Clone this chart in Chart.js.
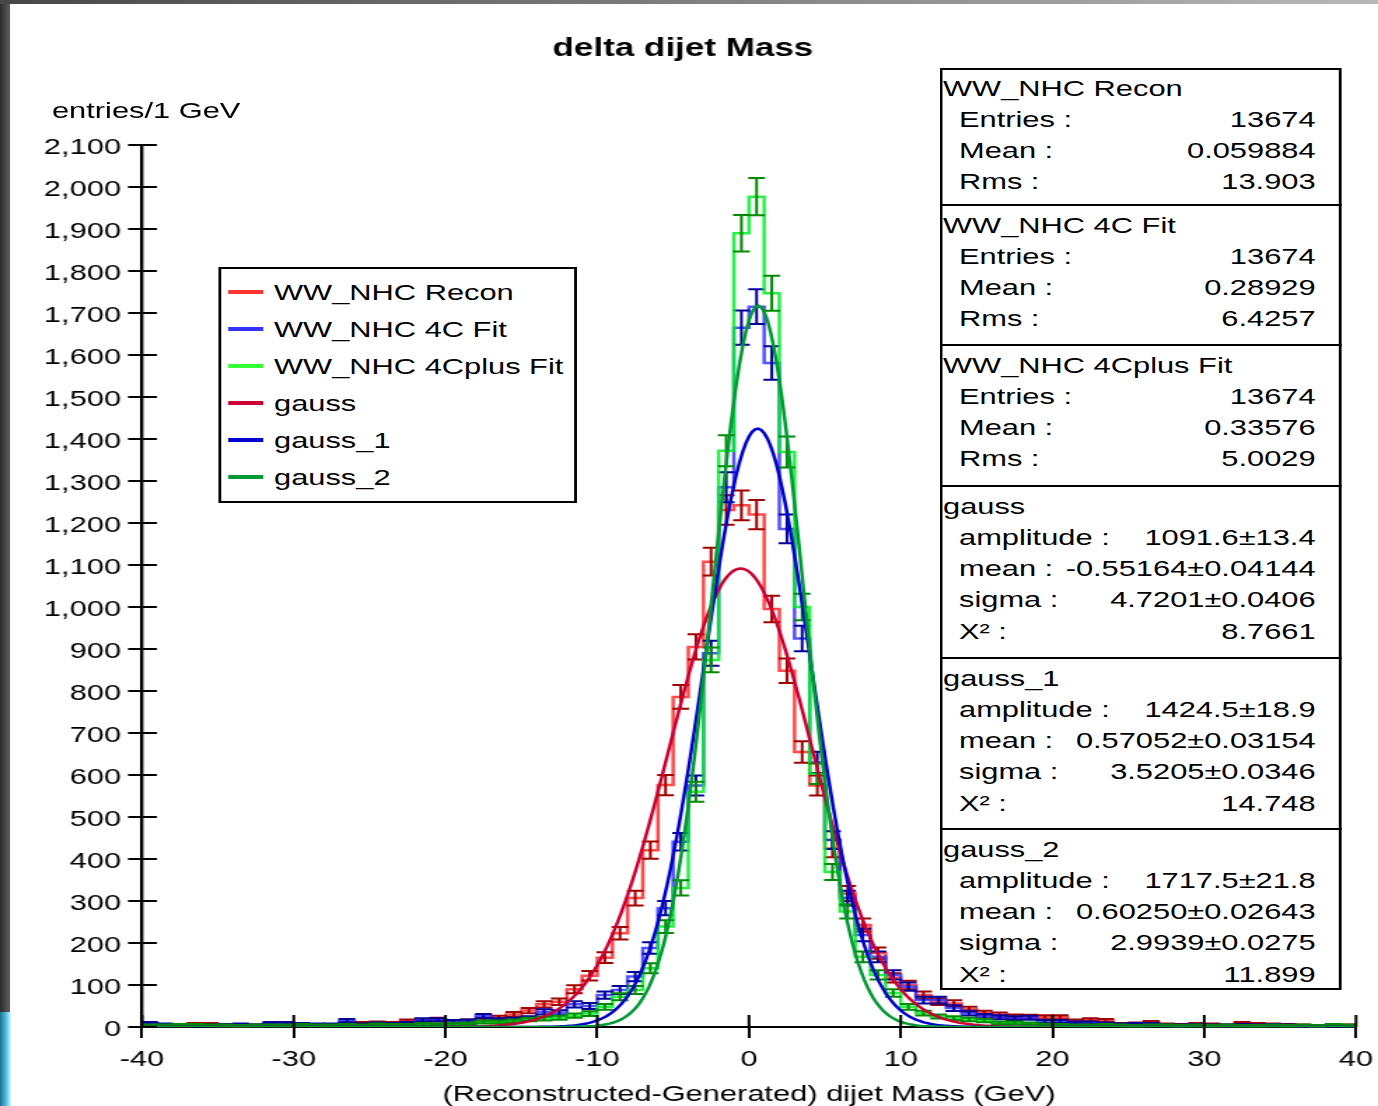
<!DOCTYPE html>
<html>
<head>
<meta charset="utf-8">
<script src="https://cdn.jsdelivr.net/npm/chart.js@4.4.1/dist/chart.umd.min.js"></script>
<style>
html,body{margin:0;padding:0;background:#fff;width:1378px;height:1106px;overflow:hidden;font-family:'Liberation Sans',Arial,sans-serif;}
#stage{position:absolute;left:0;top:0;width:984px;height:1106px;transform-origin:0 0;transform:scaleX(1.40041);}
#wrap{position:absolute;left:0;top:0;width:984px;height:1106px;}
.ov{position:absolute;white-space:nowrap;color:#000;font-size:22px;line-height:31px;height:31px;}
.box{position:absolute;border:2px solid #000;background:#fff;box-sizing:border-box;}
.rule{position:absolute;height:2px;background:#000;}
.sw{position:absolute;height:4px;}
#leftbar{position:absolute;left:0;top:0;width:10px;height:1012px;background:linear-gradient(to right,#2c2c2c,#5e5e5e);}
#leftbar2{position:absolute;left:0;top:1012px;width:11px;height:94px;background:linear-gradient(to right,#1c6f8f,#55c6e6 60%,#dff4fb);}
#topbar{position:absolute;left:0;top:0;width:1378px;height:4px;background:linear-gradient(to right,#474747,#b8b8b8);}
</style>
</head>
<body>
<div id="stage">
  <div id="wrap"><canvas id="c"></canvas></div>
</div>
<div id="leftbar"></div><div id="leftbar2"></div><div id="topbar"></div>
<script>
// ---------- data ----------
const binWidth = 1;
const binEdges = [-40,-39,-38,-37,-36,-35,-34,-33,-32,-31,-30,-29,-28,-27,-26,-25,-24,-23,-22,-21,
  -20,-19,-18,-17,-16,-15,-14,-13,-12,-11,-10,-9,-8,-7,-6,-5,-4,-3,-2,-1,
  0,1,2,3,4,5,6,7,8,9,10,11,12,13,14,15,16,17,18,19,
  20,21,22,23,24,25,26,27,28,29,30,31,32,33,34,35,36,37,38,39];

const recon = [5,5,4,7,7,4,4,4,5,5,6,5,5,6,9,10,9,14,12,18,
  13,14,18,22,30,39,54,60,90,122,165,223,307,421,576,786,905,1108,1231,1242,
  1220,995,848,655,575,425,318,243,176,117,100,76,60,56,42,33,29,25,24,23,
  23,14,17,15,7,8,11,6,5,7,6,4,9,7,6,5,4,3,4,4];

const fit4C = [9,6,5,4,4,5,6,4,9,9,7,6,6,15,6,8,7,9,17,17,
  13,14,26,17,18,21,36,34,54,50,76,88,120,188,283,441,575,890,1285,1665,
  1715,1581,1186,925,630,445,307,219,167,124,96,64,64,45,33,26,23,21,22,13,
  13,10,10,8,6,7,7,4,4,5,4,4,5,4,5,4,3,3,3,3];

const fit4Cplus = [4,4,5,5,4,4,3,4,4,4,5,4,4,5,4,6,5,5,7,6,
  7,8,12,12,14,18,20,22,27,32,48,72,88,140,239,331,560,874,1372,1890,
  1977,1747,1369,1000,603,369,275,167,124,81,48,33,25,21,18,15,10,10,8,6,
  5,4,4,5,4,3,4,4,3,4,3,4,3,3,4,3,4,3,5,4];

const histNames = ['WW_NHC Recon','WW_NHC 4C Fit','WW_NHC 4Cplus Fit'];
const fitNames = ['gauss','gauss_1','gauss_2'];
// fit parameters as printed in the statistics box
const gaussAmplitude = [1091.6,1424.5,1717.5];
const gaussMean = [-0.55164,0.57052,0.60250];
const gaussSigma = [4.7201,3.5205,2.9939];

const xTickValues = [-40,-30,-20,-10,0,10,20,30,40];
const xTickLabels = ['-40','-30','-20','-10','0','10','20','30','40'];
const yTickValues = [0,100,200,300,400,500,600,700,800,900,1000,1100,1200,1300,1400,1500,1600,1700,1800,1900,2000,2100];
const yTickLabels = ['0','100','200','300','400','500','600','700','800','900','1,000','1,100','1,200','1,300','1,400','1,500','1,600','1,700','1,800','1,900','2,000','2,100'];

const chartTitle = 'delta dijet Mass';
const xTitle = '(Reconstructed-Generated) dijet Mass (GeV)';
const yTitle = 'entries/1 GeV';

const statBlocks = [
  ['WW_NHC Recon', [['Entries :','13674'],['Mean :','0.059884'],['Rms :','13.903']]],
  ['WW_NHC 4C Fit', [['Entries :','13674'],['Mean :','0.28929'],['Rms :','6.4257']]],
  ['WW_NHC 4Cplus Fit', [['Entries :','13674'],['Mean :','0.33576'],['Rms :','5.0029']]],
  ['gauss', [['amplitude :','1091.6\u00b113.4'],['mean :','-0.55164\u00b10.04144'],['sigma :','4.7201\u00b10.0406'],['\u03a7\u00b2 :','8.7661']]],
  ['gauss_1', [['amplitude :','1424.5\u00b118.9'],['mean :','0.57052\u00b10.03154'],['sigma :','3.5205\u00b10.0346'],['\u03a7\u00b2 :','14.748']]],
  ['gauss_2', [['amplitude :','1717.5\u00b121.8'],['mean :','0.60250\u00b10.02643'],['sigma :','2.9939\u00b10.0275'],['\u03a7\u00b2 :','11.899']]]
];

// ---------- helpers ----------
function stepPoints(vals){
  const pts = binEdges.map((e,i)=>({x:e,y:vals[i]}));
  pts.push({x:binEdges[binEdges.length-1]+binWidth,y:vals[vals.length-1]});
  return pts;
}
function fitCurve(k){
  const pts=[];
  for(let i=0;i<=400;i++){
    const x=-40+i*0.2;
    const z=(x-gaussMean[k])/gaussSigma[k];
    pts.push({x:x,y:gaussAmplitude[k]*Math.exp(-0.5*z*z)});
  }
  return pts;
}

const histLine = ['rgba(255,35,35,0.82)','rgba(45,45,255,0.82)','rgba(0,240,40,0.85)'];
const histErr = ['#a00000','#000099','#008a00'];
const histLegend = ['#ff3333','#3333ff','#33ff33'];
const fitLine = ['#cc0033','#0000cc','#009933'];
const histVals = [recon,fit4C,fit4Cplus];

const datasets=[];
histVals.forEach((v,i)=>{
  datasets.push({label:histNames[i],data:stepPoints(v),borderColor:histLine[i],legendColor:histLegend[i],
    borderWidth:2.5,pointRadius:0,stepped:true,fill:false,order:6-i,errColor:histErr[i],binValues:v});
});
fitNames.forEach((n,k)=>{
  datasets.push({label:n,data:fitCurve(k),borderColor:fitLine[k],legendColor:fitLine[k],
    borderWidth:2.5,pointRadius:0,tension:0,fill:false,order:3-k});
});

// ---------- plugins ----------
const errorBars={
  id:'errorBars',
  afterDatasetDraw(chart,args){
    const ds=chart.data.datasets[args.index];
    if(!ds.errColor) return;
    const ctx=chart.ctx,a=chart.chartArea,xs=chart.scales.x,ys=chart.scales.y;
    ctx.save();
    ctx.beginPath();ctx.rect(a.left,a.top-2,a.right-a.left,a.bottom-a.top+4);ctx.clip();
    ctx.strokeStyle=ds.errColor;ctx.lineWidth=2;
    ds.binValues.forEach((v,i)=>{
      const xc=xs.getPixelForValue(binEdges[i]+binWidth/2);
      const e=Math.sqrt(v);
      const y1=ys.getPixelForValue(v-e),y2=ys.getPixelForValue(v+e);
      ctx.beginPath();
      ctx.moveTo(xc,y1);ctx.lineTo(xc,y2);
      ctx.moveTo(xc-6,y1);ctx.lineTo(xc+6,y1);
      ctx.moveTo(xc-6,y2);ctx.lineTo(xc+6,y2);
      ctx.stroke();
    });
    ctx.restore();
  }
};
const innerTicks={
  id:'innerTicks',
  afterDatasetsDraw(chart){
    const ctx=chart.ctx,a=chart.chartArea,xs=chart.scales.x,ys=chart.scales.y;
    ctx.save();ctx.strokeStyle='#000';ctx.lineWidth=2;ctx.beginPath();
    ys.ticks.forEach(t=>{const p=ys.getPixelForValue(t.value);ctx.moveTo(a.left,p);ctx.lineTo(a.left+10.7,p);});
    xs.ticks.forEach(t=>{const p=xs.getPixelForValue(t.value);ctx.moveTo(p,a.bottom);ctx.lineTo(p,a.bottom-12);});
    ctx.stroke();ctx.restore();
  }
};

Chart.defaults.font.family="'Liberation Sans', Arial, sans-serif";
Chart.defaults.font.size=22;
Chart.defaults.color='#000';

const chart=new Chart(document.getElementById('c'),{
  type:'line',
  data:{datasets:datasets},
  options:{
    responsive:true,maintainAspectRatio:false,animation:false,devicePixelRatio:1,events:[],
    layout:{padding:{left:7,right:15.71,top:0,bottom:0}},
    plugins:{
      legend:{display:false},tooltip:{enabled:false},
      title:{display:true,text:chartTitle,color:'#000',font:{size:25,weight:'bold'},padding:{top:34,bottom:81}}
    },
    scales:{
      x:{type:'linear',min:-40,max:40,
        afterBuildTicks(s){s.ticks=xTickValues.map(v=>({value:v}));},
        afterFit(s){s.height=79;s.paddingLeft=0;s.paddingRight=0;},
        ticks:{callback:(v,i)=>xTickLabels[i],padding:9,maxRotation:0,autoSkip:false,color:'#000',font:{size:22}},
        grid:{display:true,drawOnChartArea:false,drawTicks:true,tickLength:11,color:'#000',lineWidth:2},
        border:{display:true,color:'#000',width:2},
        title:{display:true,text:xTitle,color:'#000',font:{size:22},padding:{top:0,bottom:-2}}
      },
      y:{type:'linear',min:0,max:2100,
        afterBuildTicks(s){s.ticks=yTickValues.map(v=>({value:v}));},
        afterFit(s){s.width=94.4;s.paddingTop=0;s.paddingBottom=0;},
        ticks:{callback:(v,i)=>yTickLabels[i],padding:5,labelOffset:2.5,autoSkip:false,color:'#000',font:{size:22}},
        grid:{display:true,drawOnChartArea:false,drawTicks:true,tickLength:10,color:'#000',lineWidth:2},
        border:{display:true,color:'#000',width:2.4}
      }
    }
  },
  plugins:[errorBars,innerTicks]
});

// ---------- overlays (real text) ----------
const stage=document.getElementById('stage');
function add(cls,style,text){
  const d=document.createElement('div');d.className=cls;
  Object.assign(d.style,style);if(text!==undefined)d.textContent=text;stage.appendChild(d);return d;
}
// y-axis title
add('ov',{left:'37.1px',top:(110-15.5)+'px'},yTitle);

// legend built from chart datasets
add('box',{left:'155.7px',top:'267px',width:'256.3px',height:'236px'});
chart.data.datasets.forEach((ds,i)=>{
  const cy=292+37*i;
  add('sw',{left:'162.8px',top:(cy-2)+'px',width:'25.7px',background:ds.legendColor});
  add('ov',{left:'195.7px',top:(cy-15.5)+'px'},ds.label);
});

// statistics box
const blockTops=[68,205,345,486,658,829];
add('box',{left:'671.2px',top:'68px',width:'287.1px',height:'922px'});
statBlocks.forEach((b,k)=>{
  const top=blockTops[k];
  if(k>0) add('rule',{left:'671.2px',top:(top-1)+'px',width:'287.1px'});
  add('ov',{left:'673.4px',top:(top+20-15.5)+'px'},b[0]);
  b[1].forEach((r,j)=>{
    const cy=top+51.5+31.2*j;
    add('ov',{left:'684.8px',top:(cy-15.5)+'px'},r[0]);
    add('ov',{right:'44.6px',top:(cy-15.5)+'px',textAlign:'right'},r[1]);
  });
});
</script>
</body>
</html>
